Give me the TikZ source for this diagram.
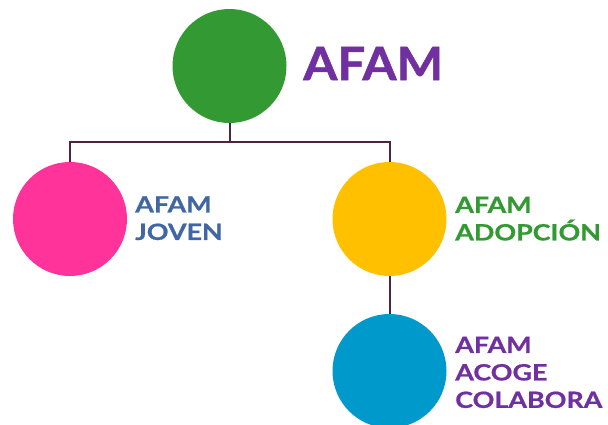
\documentclass[tikz,border=0pt]{standalone}
\usepackage{fontspec}
\setmainfont{Lato}
\newfontfamily\titlefont[FakeStretch=1.07,FakeBold=1.2]{Lato}
\newfontfamily\tagfont[FakeStretch=1.2,FakeBold=0.8]{Lato}
\definecolor{afamgreen}{HTML}{339933}
\definecolor{afampink}{HTML}{FF3399}
\definecolor{afamyellow}{HTML}{FFC000}
\definecolor{afamblue}{HTML}{0099CC}
\definecolor{afampurple}{HTML}{7030A0}
\definecolor{afamtextblue}{HTML}{4066A3}
\definecolor{afamline}{HTML}{4D2440}

\begin{document}
\begin{tikzpicture}[x=0.75pt,y=-0.75pt,
	bubble/.style={circle,minimum size=85.5pt,inner sep=0pt},
	tag/.style={anchor=north west,inner sep=0pt,align=left,font=\tagfont\bfseries\fontsize{16.8}{20.6}\selectfont},
	link/.style={draw=afamline,line width=1.5pt}]
	\useasboundingbox (0,0) rectangle (608,425);
	\node[bubble,fill=afamgreen] (afam) at (229.5,66) {};
	\node[bubble,fill=afampink] (joven) at (70,219) {};
	\node[bubble,fill=afamyellow] (adopcion) at (389.5,219) {};
	\node[bubble,fill=afamblue] (acoge) at (389.5,371) {};
	\coordinate (split) at (229.5,142);
	\draw[link] (afam) -- (split) -| (joven);
	\draw[link] (split) -| (adopcion);
	\draw[link] (adopcion) -- (acoge);
	\node[anchor=west,inner sep=0pt,color=afampurple,font=\titlefont\bfseries\fontsize{34.5}{40}\selectfont] (title) at (303,63.5) {AFAM};
	\node[tag,color=afamtextblue] (jovenlbl) at (135,196) {AFAM\\JOVEN};
	\node[tag,color=afamgreen] (adopcionlbl) at (455,196.5) {AFAM\\ADOPCIÓN};
	\node[tag,color=afampurple] (acogelbl) at (455,336.5) {AFAM\\ACOGE\\COLABORA};
\end{tikzpicture}
\end{document}
